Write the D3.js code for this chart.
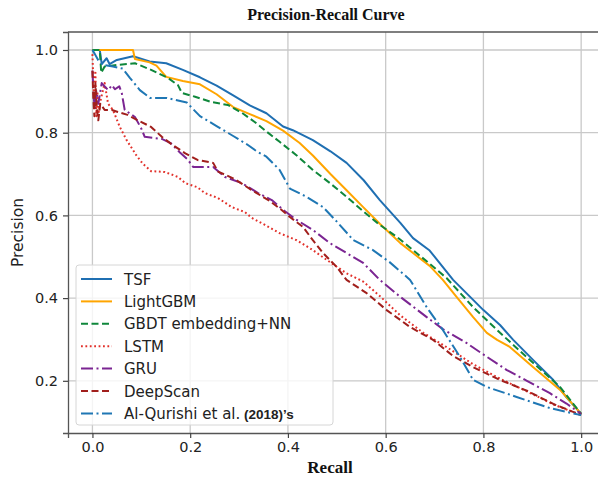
<!DOCTYPE html>
<html>
<head>
<meta charset="utf-8">
<script src="https://cdn.jsdelivr.net/npm/d3@7"></script>
<style>
  body { margin: 0; background: #fff; }
  svg { display: block; }
</style>
</head>
<body>
<svg id="chart" width="598" height="479"></svg>
<script>
// ---- data: [recall, precision] ----
const tsf = [[0,1],[0.015,1],[0.019,0.966],[0.029,0.98],[0.035,0.966],[0.05,0.976],[0.083,0.985],[0.117,0.972],[0.151,0.968],
  [0.185,0.952],[0.22,0.934],[0.254,0.914],[0.288,0.89],[0.322,0.866],[0.356,0.847],[0.39,0.815],[0.41,0.806],[0.451,0.782],
  [0.487,0.755],[0.52,0.727],[0.555,0.685],[0.588,0.637],[0.63,0.582],[0.656,0.545],[0.69,0.515],[0.738,0.444],[0.8,0.371],
  [0.834,0.335],[0.861,0.299],[0.902,0.25],[0.943,0.202],[0.97,0.16],[1.0,0.12]];

const lightgbm = [[0,1],[0.083,1],[0.087,0.978],[0.117,0.97],[0.131,0.962],[0.151,0.935],[0.185,0.925],[0.22,0.917],
  [0.254,0.893],[0.288,0.862],[0.322,0.845],[0.356,0.828],[0.39,0.805],[0.424,0.775],[0.451,0.745],[0.487,0.7],[0.52,0.661],
  [0.554,0.62],[0.588,0.58],[0.63,0.533],[0.656,0.509],[0.69,0.478],[0.717,0.444],[0.745,0.403],[0.779,0.354],[0.807,0.316],
  [0.828,0.299],[0.854,0.282],[0.902,0.233],[0.957,0.178],[1.0,0.12]];

const gbdt = [[0,1],[0.015,1],[0.018,0.945],[0.025,0.96],[0.052,0.964],[0.087,0.968],[0.12,0.952],[0.155,0.932],[0.175,0.915],
  [0.183,0.896],[0.21,0.887],[0.244,0.874],[0.277,0.867],[0.306,0.848],[0.332,0.826],[0.357,0.802],[0.383,0.778],[0.418,0.745],
  [0.451,0.71],[0.486,0.678],[0.52,0.645],[0.554,0.61],[0.588,0.577],[0.623,0.548],[0.656,0.516],[0.69,0.483],[0.725,0.448],
  [0.779,0.378],[0.834,0.316],[0.902,0.243],[0.957,0.185],[1.0,0.12]];

const lstm = [[0,0.99],[0.002,0.92],[0.004,0.86],[0.006,0.95],[0.008,0.84],[0.01,0.9],[0.013,0.85],[0.017,0.88],[0.025,0.92],
  [0.032,0.87],[0.042,0.855],[0.056,0.814],[0.07,0.782],[0.09,0.745],[0.103,0.725],[0.12,0.707],[0.148,0.705],[0.175,0.693],
  [0.19,0.678],[0.215,0.668],[0.23,0.654],[0.257,0.642],[0.285,0.62],[0.312,0.608],[0.326,0.594],[0.353,0.577],[0.383,0.557],
  [0.418,0.54],[0.451,0.516],[0.492,0.482],[0.52,0.46],[0.554,0.44],[0.588,0.405],[0.63,0.358],[0.677,0.316],[0.732,0.276],
  [0.779,0.24],[0.834,0.205],[0.89,0.174],[0.945,0.142],[1.0,0.117]];

const gru = [[0,0.95],[0.003,0.88],[0.005,0.86],[0.008,0.9],[0.012,0.87],[0.019,0.92],[0.032,0.903],[0.04,0.915],[0.046,0.905],
  [0.055,0.912],[0.06,0.896],[0.066,0.855],[0.087,0.838],[0.1,0.81],[0.107,0.79],[0.142,0.785],[0.16,0.775],[0.179,0.752],
  [0.195,0.735],[0.206,0.717],[0.247,0.717],[0.271,0.693],[0.306,0.678],[0.339,0.654],[0.367,0.637],[0.394,0.61],[0.418,0.589],
  [0.451,0.565],[0.486,0.533],[0.52,0.509],[0.554,0.485],[0.588,0.444],[0.63,0.403],[0.684,0.354],[0.717,0.325],[0.766,0.291],
  [0.807,0.258],[0.848,0.226],[0.889,0.2],[0.936,0.17],[0.97,0.145],[1.0,0.12]];

const deepscan = [[0,0.95],[0.002,0.879],[0.004,0.84],[0.006,0.92],[0.009,0.86],[0.012,0.83],[0.016,0.87],[0.025,0.855],
  [0.04,0.855],[0.052,0.85],[0.072,0.843],[0.093,0.83],[0.12,0.814],[0.142,0.79],[0.162,0.772],[0.19,0.75],[0.215,0.734],
  [0.247,0.727],[0.257,0.706],[0.291,0.688],[0.326,0.661],[0.36,0.637],[0.383,0.617],[0.404,0.596],[0.431,0.572],[0.451,0.54],
  [0.472,0.509],[0.5,0.475],[0.52,0.444],[0.561,0.412],[0.602,0.371],[0.65,0.33],[0.697,0.299],[0.738,0.26],[0.779,0.233],
  [0.834,0.202],[0.889,0.176],[0.943,0.144],[1.0,0.117]];

const qurishi = [[0,1],[0.005,0.99],[0.012,0.975],[0.021,0.964],[0.042,0.96],[0.062,0.955],[0.077,0.932],[0.097,0.903],
  [0.118,0.884],[0.152,0.884],[0.193,0.873],[0.22,0.84],[0.254,0.816],[0.288,0.792],[0.316,0.772],[0.336,0.755],[0.356,0.742],
  [0.383,0.71],[0.404,0.665],[0.438,0.645],[0.472,0.62],[0.5,0.585],[0.534,0.54],[0.574,0.516],[0.608,0.487],[0.65,0.444],
  [0.684,0.378],[0.717,0.323],[0.752,0.258],[0.779,0.202],[0.807,0.185],[0.868,0.161],[0.936,0.134],[1.0,0.117]];

const seriesNames = ["TSF", "LightGBM", "GBDT embedding+NN", "LSTM", "GRU", "DeepScan", "Al-Qurishi et al."];
const seriesData = [tsf, lightgbm, gbdt, lstm, gru, deepscan, qurishi];
const xTicks = [0, 0.2, 0.4, 0.6, 0.8, 1.0];
const yTicks = [0.2, 0.4, 0.6, 0.8, 1.0];

// line styles per series
const styles = [
  {color: "#1f6fb2", dash: null},
  {color: "#ffa500", dash: null},
  {color: "#0f873b", dash: "7,3.5"},
  {color: "#e2302a", dash: "1.8,2.6"},
  {color: "#7b2592", dash: "12,3.5,2,3.5"},
  {color: "#a11f1c", dash: "7,3.5"},
  {color: "#1f77b4", dash: "12,3.5,2,3.5"}
];

const svg = d3.select("#chart");
const plotLeft = 68, plotRight = 605.6, plotTop = 32, plotBottom = 433;

const x = d3.scaleLinear().domain([-0.05, 1.05]).range([plotLeft, plotRight]);
const y = d3.scaleLinear().domain([0.0738, 1.0435]).range([plotBottom, plotTop]);

// grid
svg.append("g")
  .selectAll("line")
  .data(xTicks)
  .join("line")
  .attr("x1", d => x(d)).attr("x2", d => x(d))
  .attr("y1", plotTop).attr("y2", plotBottom)
  .attr("stroke", "#c9c9c9").attr("stroke-width", 1.3);
svg.append("g")
  .selectAll("line")
  .data(yTicks)
  .join("line")
  .attr("x1", plotLeft).attr("x2", plotRight)
  .attr("y1", d => y(d)).attr("y2", d => y(d))
  .attr("stroke", "#c9c9c9").attr("stroke-width", 1.3);

// axes
const xAxis = svg.append("g")
  .attr("transform", "translate(0," + plotBottom + ")")
  .call(d3.axisBottom(x).tickValues(xTicks).tickFormat(d3.format(".1f")).tickSize(5).tickPadding(4));
const yAxis = svg.append("g")
  .attr("transform", "translate(" + plotLeft + ",0)")
  .call(d3.axisLeft(y).tickValues(yTicks).tickFormat(d3.format(".1f")).tickSize(5).tickPadding(5));
[xAxis, yAxis].forEach(a => {
  a.select(".domain").attr("stroke", "#555").attr("stroke-width", 1.3);
  a.selectAll(".tick line").attr("stroke", "#444").attr("stroke-width", 1.2);
  a.selectAll(".tick text")
    .attr("font-family", "DejaVu Sans, sans-serif")
    .attr("font-size", "14.5px")
    .attr("fill", "#222");
});
// top spine
svg.append("line")
  .attr("x1", plotLeft).attr("x2", plotRight).attr("y1", plotTop).attr("y2", plotTop)
  .attr("stroke", "#555").attr("stroke-width", 1.3);

// curves
const line = d3.line().x(d => x(d[0])).y(d => y(d[1]));
seriesData.forEach((data, i) => {
  svg.append("path")
    .datum(data)
    .attr("d", line)
    .attr("fill", "none")
    .attr("stroke", styles[i].color)
    .attr("stroke-width", 2)
    .attr("stroke-dasharray", styles[i].dash)
    .attr("stroke-linejoin", "round");
});

// legend
const legend = svg.append("g");
legend.append("rect")
  .attr("x", 76).attr("y", 265).attr("width", 257).attr("height", 160)
  .attr("rx", 3)
  .attr("fill", "#fff").attr("fill-opacity", 0.8)
  .attr("stroke", "#d6d6d6").attr("stroke-width", 1);

seriesNames.forEach((name, i) => {
  const ly = 279 + i * 22.4;
  legend.append("line")
    .attr("x1", 81).attr("x2", 112).attr("y1", ly).attr("y2", ly)
    .attr("stroke", styles[i].color)
    .attr("stroke-width", 2)
    .attr("stroke-dasharray", styles[i].dash);
  const t = legend.append("text")
    .attr("x", 124).attr("y", ly + 5.5)
    .attr("font-family", "DejaVu Sans, sans-serif")
    .attr("font-size", "15px")
    .attr("fill", "#222")
    .text(name);
  if (i === seriesNames.length - 1) {
    t.append("tspan")
      .attr("font-family", "Liberation Sans Narrow, Liberation Sans, Arial, sans-serif")
      .attr("font-weight", "bold")
      .attr("font-size", "13.5px")
      .text(" (2018)\u2019s");
  }
});

// title and axis labels
svg.append("text")
  .attr("x", 326).attr("y", 20)
  .attr("text-anchor", "middle")
  .attr("font-family", "Liberation Serif, Times New Roman, serif")
  .attr("font-weight", "bold")
  .attr("font-size", "16px")
  .attr("fill", "#111")
  .text("Precision-Recall Curve");

svg.append("text")
  .attr("x", 330).attr("y", 473)
  .attr("text-anchor", "middle")
  .attr("font-family", "Liberation Serif, Times New Roman, serif")
  .attr("font-weight", "bold")
  .attr("font-size", "17px")
  .attr("fill", "#111")
  .text("Recall");

svg.append("text")
  .attr("transform", "translate(23," + ((plotTop + plotBottom) / 2) + ") rotate(-90)")
  .attr("text-anchor", "middle")
  .attr("font-family", "DejaVu Sans, sans-serif")
  .attr("font-size", "15.5px")
  .attr("fill", "#222")
  .text("Precision");
</script>
</body>
</html>
